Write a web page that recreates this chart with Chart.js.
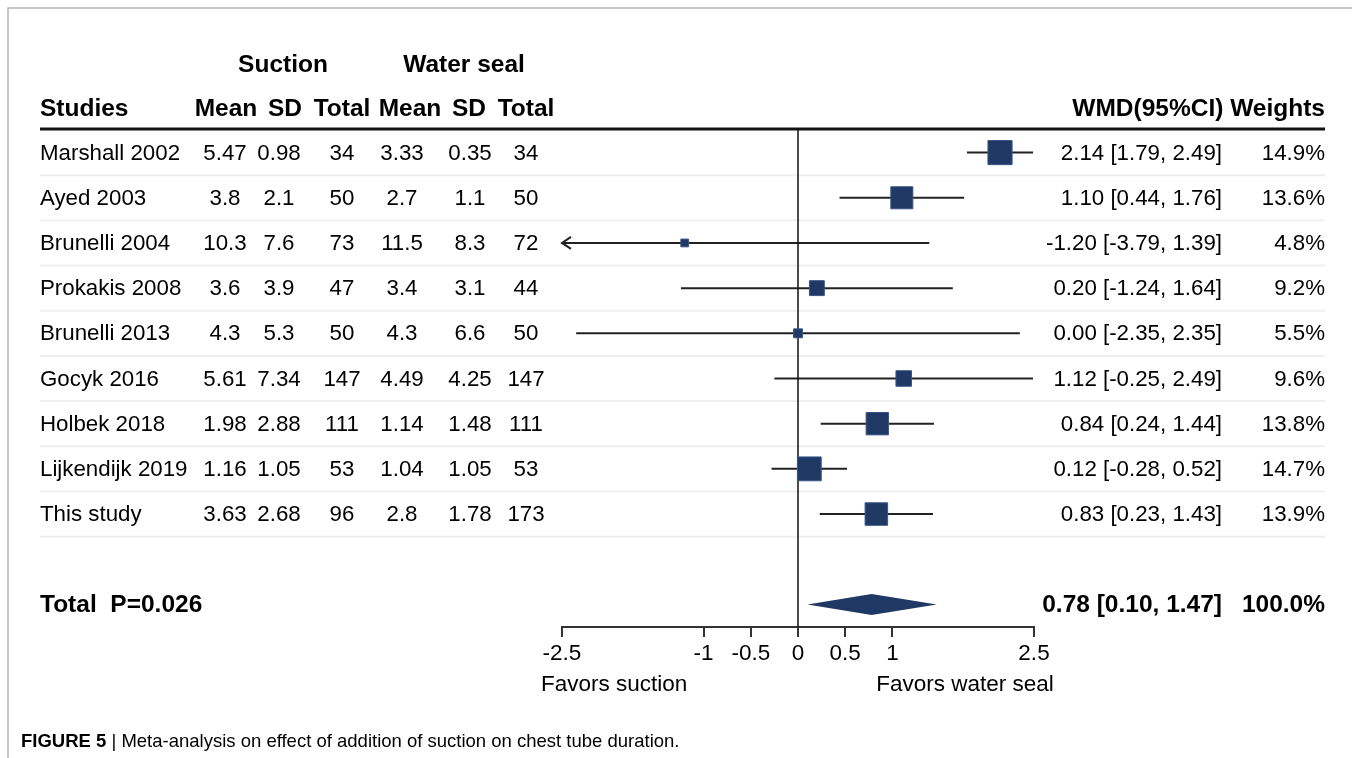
<!DOCTYPE html>
<html>
<head>
<meta charset="utf-8">
<script src="https://cdn.jsdelivr.net/npm/chart.js@4.4.0/dist/chart.umd.min.js"></script>
<style>
  html, body { margin: 0; padding: 0; background: #fff; }
  canvas { display: block; }
</style>
</head>
<body>
<canvas id="chart" width="1352" height="758"></canvas>
<script>
const studies = ["Marshall 2002", "Ayed 2003", "Brunelli 2004", "Prokakis 2008", "Brunelli 2013",
                 "Gocyk 2016", "Holbek 2018", "Lijkendijk 2019", "This study"];
const suctionMean = ["5.47", "3.8", "10.3", "3.6", "4.3", "5.61", "1.98", "1.16", "3.63"];
const suctionSD = ["0.98", "2.1", "7.6", "3.9", "5.3", "7.34", "2.88", "1.05", "2.68"];
const suctionN = [34, 50, 73, 47, 50, 147, 111, 53, 96];
const sealMean = ["3.33", "2.7", "11.5", "3.4", "4.3", "4.49", "1.14", "1.04", "2.8"];
const sealSD = ["0.35", "1.1", "8.3", "3.1", "6.6", "4.25", "1.48", "1.05", "1.78"];
const sealN = [34, 50, 72, 44, 50, 147, 111, 53, 173];
const wmd = [2.14, 1.10, -1.20, 0.20, 0.00, 1.12, 0.84, 0.12, 0.83];
const ciLow = [1.79, 0.44, -3.79, -1.24, -2.35, -0.25, 0.24, -0.28, 0.23];
const ciHigh = [2.49, 1.76, 1.39, 1.64, 2.35, 2.49, 1.44, 0.52, 1.43];
const weights = [14.9, 13.6, 4.8, 9.2, 5.5, 9.6, 13.8, 14.7, 13.9];
const total = { wmd: 0.78, low: 0.10, high: 1.47, weight: 100.0, p: "0.026" };
const xTicks = [-2.5, -1, -0.5, 0, 0.5, 1, 2.5];

const navy = "#1f3864";
const totalRow = studies.length + 1;
const font = "'Liberation Sans', Arial, Helvetica, sans-serif";

// whiskers, one line per study
const whiskers = studies.map((s, i) => ({
    type: "scatter",
    showLine: true,
    data: [{ x: ciLow[i], y: i }, { x: ciHigh[i], y: i }],
    borderColor: "#222",
    borderWidth: 2,
    pointRadius: 0,
    order: 2
}));

const boxes = {
    type: "scatter",
    data: wmd.map((v, i) => ({ x: v, y: i })),
    pointStyle: "rect",
    pointRadius: weights.map(w => w * 1.62 / Math.SQRT2),
    backgroundColor: navy,
    borderColor: "#3a5688",
    borderWidth: 1,
    order: 0
};

const zeroLine = {
    type: "scatter",
    showLine: true,
    data: [{ x: 0, y: -0.5 }, { x: 0, y: totalRow + 0.5 }],
    borderColor: "#111",
    borderWidth: 1.5,
    pointRadius: 0,
    order: 1
};

const tablePlugin = {
    id: "table",
    beforeDatasetsDraw(chart) {
        const c = chart.ctx;
        const ys = chart.scales.y;
        c.save();
        // light row separators
        c.strokeStyle = "#efefef";
        c.lineWidth = 2;
        for (let i = 0; i < studies.length; i++) {
            const y = (ys.getPixelForValue(i) + ys.getPixelForValue(i + 1)) / 2;
            c.beginPath();
            c.moveTo(40, y);
            c.lineTo(1325, y);
            c.stroke();
        }
        c.restore();
    },
    afterDraw(chart) {
        const c = chart.ctx;
        const xs = chart.scales.x;
        const ys = chart.scales.y;
        const area = chart.chartArea;
        c.save();

        // frame
        c.strokeStyle = "#b5b5b5";
        c.lineWidth = 1.5;
        c.beginPath();
        c.moveTo(8, 758);
        c.lineTo(8, 8);
        c.lineTo(1352, 8);
        c.stroke();

        // header rule
        c.strokeStyle = "#111";
        c.lineWidth = 3;
        c.beginPath();
        c.moveTo(40, area.top - 1);
        c.lineTo(1325, area.top - 1);
        c.stroke();

        // arrow for truncated CI
        c.lineWidth = 2;
        c.strokeStyle = "#222";
        ciLow.forEach((v, i) => {
            if (v < xs.min) {
                const x = xs.getPixelForValue(xs.min);
                const y = ys.getPixelForValue(i);
                c.beginPath();
                c.moveTo(x + 9, y - 6);
                c.lineTo(x, y);
                c.lineTo(x + 9, y + 6);
                c.stroke();
            }
        });

        // summary diamond
        const yT = ys.getPixelForValue(totalRow);
        const h = 10.5;
        c.fillStyle = navy;
        c.beginPath();
        c.moveTo(xs.getPixelForValue(total.low), yT);
        c.lineTo(xs.getPixelForValue(total.wmd), yT - h);
        c.lineTo(xs.getPixelForValue(total.high), yT);
        c.lineTo(xs.getPixelForValue(total.wmd), yT + h);
        c.closePath();
        c.fill();

        // headers
        c.fillStyle = "#000";
        c.textBaseline = "middle";
        c.font = "bold 24.5px " + font;
        c.textAlign = "center";
        c.fillText("Suction", 283, 65);
        c.fillText("Water seal", 464, 65);
        const hy = 109;
        [["Mean", 226], ["SD", 285], ["Total", 342], ["Mean", 410], ["SD", 469], ["Total", 526]]
            .forEach(([t, x]) => c.fillText(t, x, hy));
        c.textAlign = "left";
        c.fillText("Studies", 40, hy);
        c.textAlign = "right";
        c.fillText("WMD(95%CI) Weights", 1325, hy);

        // study rows
        c.font = "22.3px " + font;
        studies.forEach((s, i) => {
            const y = ys.getPixelForValue(i) + 1;
            c.textAlign = "left";
            c.fillText(s, 40, y);
            c.textAlign = "center";
            c.fillText(suctionMean[i], 225, y);
            c.fillText(suctionSD[i], 279, y);
            c.fillText(String(suctionN[i]), 342, y);
            c.fillText(sealMean[i], 402, y);
            c.fillText(sealSD[i], 470, y);
            c.fillText(String(sealN[i]), 526, y);
            c.textAlign = "right";
            c.fillText(wmd[i].toFixed(2) + " [" + ciLow[i].toFixed(2) + ", " + ciHigh[i].toFixed(2) + "]", 1222, y);
            c.fillText(weights[i].toFixed(1) + "%", 1325, y);
        });

        // total row
        c.font = "bold 24.5px " + font;
        c.textAlign = "left";
        c.fillText("Total  P=" + total.p, 40, yT + 1);
        c.textAlign = "right";
        c.fillText(total.wmd.toFixed(2) + " [" + total.low.toFixed(2) + ", " + total.high.toFixed(2) + "]", 1222, yT + 1);
        c.fillText(total.weight.toFixed(1) + "%", 1325, yT + 1);

        // direction labels
        c.font = "22.5px " + font;
        c.textAlign = "left";
        c.fillText("Favors suction", 541, 685);
        c.textAlign = "center";
        c.fillText("Favors water seal", 965, 685);

        // caption
        c.textAlign = "left";
        c.font = "bold 18.5px " + font;
        c.fillText("FIGURE 5", 21, 742);
        const w = c.measureText("FIGURE 5").width;
        c.font = "18.5px " + font;
        c.fillText(" | Meta-analysis on effect of addition of suction on chest tube duration.", 21 + w, 742);

        c.restore();
    }
};

const ctx = document.getElementById("chart").getContext("2d");

const forestChart = new Chart(ctx, {
    type: "scatter",
    data: { datasets: [boxes, zeroLine, ...whiskers] },
    options: {
        responsive: false,
        animation: false,
        events: [],
        layout: { padding: { left: 562, right: 318, top: 130, bottom: 91 } },
        plugins: { legend: { display: false }, tooltip: { enabled: false } },
        scales: {
            x: {
                type: "linear",
                min: -2.5,
                max: 2.5,
                afterBuildTicks: s => { s.ticks = xTicks.map(v => ({ value: v })); },
                afterFit: s => { s.height = 40; },
                grid: { drawOnChartArea: false, drawTicks: true, tickLength: 10, color: "#333", lineWidth: 2 },
                border: { display: true, color: "#333", width: 2 },
                ticks: {
                    autoSkip: false,
                    maxRotation: 0,
                    padding: 3,
                    color: "#000",
                    font: { size: 22.5, family: font },
                    callback: v => String(v)
                }
            },
            y: {
                type: "linear",
                display: false,
                reverse: true,
                min: -0.5,
                max: totalRow + 0.5
            }
        }
    },
    plugins: [tablePlugin]
});
</script>
</body>
</html>
